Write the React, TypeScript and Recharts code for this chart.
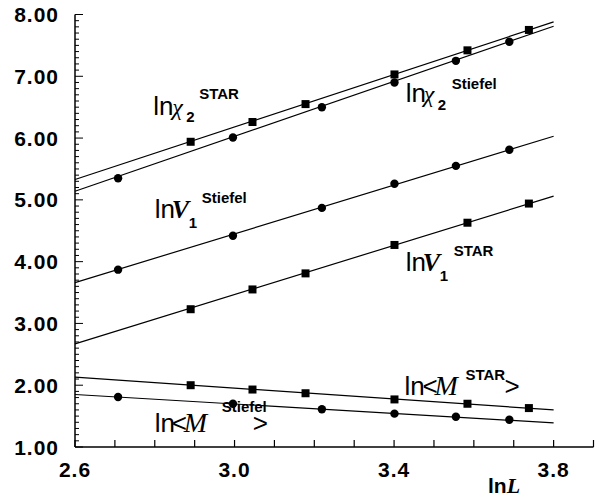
import React from "react";
import { ComposedChart, Line, Scatter, XAxis, YAxis, ReferenceDot, Label } from "recharts";

// sizes of L taken as ln L on x
const xStiefel = [2.708, 2.996, 3.219, 3.401, 3.555, 3.689];
const xStar = [2.89, 3.045, 3.178, 3.401, 3.584, 3.738];

// measured points
const chi2Star = [5.94, 6.26, 6.55, 7.03, 7.42, 7.75];
const chi2Stiefel = [5.35, 6.01, 6.5, 6.9, 7.25, 7.56];
const v1Stiefel = [3.87, 4.42, 4.87, 5.26, 5.55, 5.81];
const v1Star = [3.23, 3.55, 3.81, 4.27, 4.63, 4.94];
const mStar = [2.0, 1.93, 1.87, 1.77, 1.7, 1.63];
const mStiefel = [1.81, 1.7, 1.61, 1.54, 1.49, 1.44];

// fitted lines, ends at ln L = 2.6 and 3.8
const fitX = [2.6, 3.8];
const chi2StarFit = [5.33, 7.88];
const chi2StiefelFit = [5.14, 7.81];
const v1StiefelFit = [3.66, 6.03];
const v1StarFit = [2.67, 5.06];
const mStarFit = [2.13, 1.6];
const mStiefelFit = [1.85, 1.39];

const xTicks = [2.6, 2.7, 2.8, 2.9, 3.0, 3.1, 3.2, 3.3, 3.4, 3.5, 3.6, 3.7, 3.8, 3.9];
const xTickLabels = [2.6, 3.0, 3.4, 3.8];
const yTickLabels = [1, 2, 3, 4, 5, 6, 7, 8];
const yTicks = Array.from({ length: 71 }, (_, i) => Math.round(10 + i) / 10);

const pts = (xs: number[], ys: number[]) => xs.map((x, i) => ({ x, y: ys[i] }));

const SANS = "'Liberation Sans Narrow', 'Liberation Sans', Arial, sans-serif";
const BOLD = "'Liberation Sans', Arial, sans-serif";
const SERIF = "'Liberation Serif', 'Times New Roman', serif";

type Part = { t: string; dx: number; dy: number; kind: "ln" | "greek" | "var" | "sub" | "sup" | "sym" | "m" };

const styles: Record<string, React.SVGProps<SVGTextElement>> = {
  ln: { fontFamily: SANS, fontSize: 26 },
  greek: { fontFamily: SERIF, fontSize: 24, fontStyle: "italic" },
  var: { fontFamily: SERIF, fontSize: 26, fontStyle: "italic", fontWeight: "bold" },
  m: { fontFamily: SERIF, fontSize: 28, fontStyle: "italic" },
  sym: { fontFamily: SANS, fontSize: 26 },
  sub: { fontFamily: BOLD, fontSize: 15, fontWeight: "bold" },
  sup: { fontFamily: BOLD, fontSize: 15, fontWeight: "bold" },
};

const notes: { x: number; y: number; parts: Part[] }[] = [
  {
    x: 2.796, y: 6.374,
    parts: [
      { t: "ln", dx: 0, dy: 0, kind: "ln" },
      { t: "χ", dx: 19, dy: 0, kind: "greek" },
      { t: "2", dx: 33, dy: 7, kind: "sub" },
      { t: "STAR", dx: 46, dy: -16, kind: "sup" },
    ],
  },
  {
    x: 3.429, y: 6.589,
    parts: [
      { t: "ln", dx: 0, dy: 0, kind: "ln" },
      { t: "χ", dx: 18, dy: 0, kind: "greek" },
      { t: "2", dx: 32, dy: 8, kind: "sub" },
      { t: "Stiefel", dx: 46, dy: -13, kind: "sup" },
    ],
  },
  {
    x: 2.8, y: 4.702,
    parts: [
      { t: "ln", dx: 0, dy: 0, kind: "ln" },
      { t: "V", dx: 17, dy: 0, kind: "var" },
      { t: "1", dx: 34, dy: 10, kind: "sub" },
      { t: "Stiefel", dx: 47, dy: -15, kind: "sup" },
    ],
  },
  {
    x: 3.429, y: 3.854,
    parts: [
      { t: "ln", dx: 0, dy: 0, kind: "ln" },
      { t: "V", dx: 17, dy: 0, kind: "var" },
      { t: "1", dx: 34, dy: 10, kind: "sub" },
      { t: "STAR", dx: 48, dy: -15, kind: "sup" },
    ],
  },
  {
    x: 3.426, y: 1.842,
    parts: [
      { t: "ln", dx: 0, dy: 0, kind: "ln" },
      { t: "<", dx: 18, dy: 0, kind: "sym" },
      { t: "M", dx: 30, dy: 0, kind: "m" },
      { t: "STAR", dx: 61, dy: -15, kind: "sup" },
      { t: ">", dx: 100, dy: 0, kind: "sym" },
    ],
  },
  {
    x: 2.8, y: 1.248,
    parts: [
      { t: "ln", dx: 0, dy: 0, kind: "ln" },
      { t: "<", dx: 17, dy: 0, kind: "sym" },
      { t: "M", dx: 29, dy: 0, kind: "m" },
      { t: "Stiefel", dx: 67, dy: -20, kind: "sup" },
      { t: ">", dx: 98, dy: 0, kind: "sym" },
    ],
  },
];

const near = (list: number[], v: number) => list.find((l) => Math.abs(l - v) < 1e-6);

const tickFont = { fontFamily: BOLD, fontWeight: "bold" as const, fontSize: 21, letterSpacing: 1, fill: "#000" };

const BottomTick = (props: any) => {
  const { x, y, payload } = props;
  const lab = near(xTickLabels, payload.value);
  return (
    <g>
      <line x1={x} y1={y} x2={x} y2={y - 7} stroke="#000" strokeWidth={1.2} />
      {lab !== undefined && (
        <text x={x} y={y + 30} textAnchor="middle" {...tickFont}>
          {lab.toFixed(1)}
        </text>
      )}
    </g>
  );
};

const TopTick = (props: any) => {
  const { x, y } = props;
  return <line x1={x} y1={y} x2={x} y2={y + 7} stroke="#000" strokeWidth={1.2} />;
};

const LeftTick = (props: any) => {
  const { x, y, payload } = props;
  const lab = near(yTickLabels, payload.value);
  const len = lab !== undefined ? 8 : 4;
  return (
    <g>
      <line x1={x} y1={y} x2={x + len} y2={y} stroke="#000" strokeWidth={1} />
      {lab !== undefined && (
        <text x={x - 16} y={y + 7.5} textAnchor="end" {...tickFont}>
          {lab.toFixed(2)}
        </text>
      )}
    </g>
  );
};

const RightTick = (props: any) => {
  const { x, y, payload } = props;
  const len = near(yTickLabels, payload.value) !== undefined ? 8 : 4;
  return <line x1={x} y1={y} x2={x - len} y2={y} stroke="#000" strokeWidth={1} />;
};

const Dot = (props: any) => <circle cx={props.cx} cy={props.cy} r={4.2} fill="#000" />;
const Square = (props: any) => <rect x={props.cx - 4} y={props.cy - 4} width={8} height={8} fill="#000" />;

const noteShape = (parts: Part[]) => (props: any) => (
  <g>
    {parts.map((p, i) => (
      <text key={i} x={props.cx + p.dx} y={props.cy + p.dy} fill="#000" {...styles[p.kind]}>
        {p.t}
      </text>
    ))}
  </g>
);

const series = [
  { name: "chi2Star", xs: xStar, ys: chi2Star, fit: chi2StarFit, shape: Square },
  { name: "chi2Stiefel", xs: xStiefel, ys: chi2Stiefel, fit: chi2StiefelFit, shape: Dot },
  { name: "v1Stiefel", xs: xStiefel, ys: v1Stiefel, fit: v1StiefelFit, shape: Dot },
  { name: "v1Star", xs: xStar, ys: v1Star, fit: v1StarFit, shape: Square },
  { name: "mStar", xs: xStar, ys: mStar, fit: mStarFit, shape: Square },
  { name: "mStiefel", xs: xStiefel, ys: mStiefel, fit: mStiefelFit, shape: Dot },
];

const axisLine = { stroke: "#000", strokeWidth: 1.5 };

export default function App() {
  return (
    <div style={{ position: "absolute", left: 0, top: 0, width: 603, height: 500, background: "#fff" }}>
      <ComposedChart width={603} height={500} margin={{ top: 14.5, right: 9.5, bottom: 0, left: 0 }}>
        <XAxis
          xAxisId="bottom"
          dataKey="x"
          type="number"
          domain={[2.6, 3.9]}
          ticks={xTicks}
          interval={0}
          height={53}
          tickSize={0}
          tickMargin={0}
          tickLine={false}
          axisLine={axisLine}
          tick={<BottomTick />}
        >
          <Label
            content={(p: any) => (
              <text x={p.viewBox.x + 413} y={p.viewBox.y + 46} fill="#000">
                <tspan fontFamily={BOLD} fontWeight="bold" fontSize={21}>ln</tspan>
                <tspan fontFamily={SERIF} fontWeight="bold" fontStyle="italic" fontSize={22}>L</tspan>
              </text>
            )}
          />
        </XAxis>
        <XAxis
          xAxisId="top"
          orientation="top"
          dataKey="x"
          type="number"
          domain={[2.6, 3.9]}
          ticks={xTicks}
          interval={0}
          height={0}
          tickSize={0}
          tickMargin={0}
          tickLine={false}
          axisLine={axisLine}
          tick={<TopTick />}
        />
        <YAxis
          yAxisId="left"
          type="number"
          domain={[1, 8]}
          ticks={yTicks}
          interval={0}
          width={75}
          tickSize={0}
          tickMargin={0}
          tickLine={false}
          axisLine={axisLine}
          tick={<LeftTick />}
        />
        <YAxis
          yAxisId="right"
          orientation="right"
          type="number"
          domain={[1, 8]}
          ticks={yTicks}
          interval={0}
          width={0}
          tickSize={0}
          tickMargin={0}
          tickLine={false}
          axisLine={axisLine}
          tick={<RightTick />}
        />
        {series.map((s) => (
          <Line
            key={s.name + "-fit"}
            xAxisId="bottom"
            yAxisId="left"
            data={pts(fitX, s.fit)}
            dataKey="y"
            type="linear"
            stroke="#000"
            strokeWidth={1.2}
            dot={false}
            activeDot={false}
            isAnimationActive={false}
          />
        ))}
        {series.map((s) => (
          <Scatter
            key={s.name}
            xAxisId="bottom"
            yAxisId="left"
            data={pts(s.xs, s.ys)}
            dataKey="y"
            shape={s.shape}
            isAnimationActive={false}
          />
        ))}
        {notes.map((n, i) => (
          <ReferenceDot
            key={i}
            xAxisId="bottom"
            yAxisId="left"
            x={n.x}
            y={n.y}
            r={0}
            shape={noteShape(n.parts)}
          />
        ))}
      </ComposedChart>
    </div>
  );
}
